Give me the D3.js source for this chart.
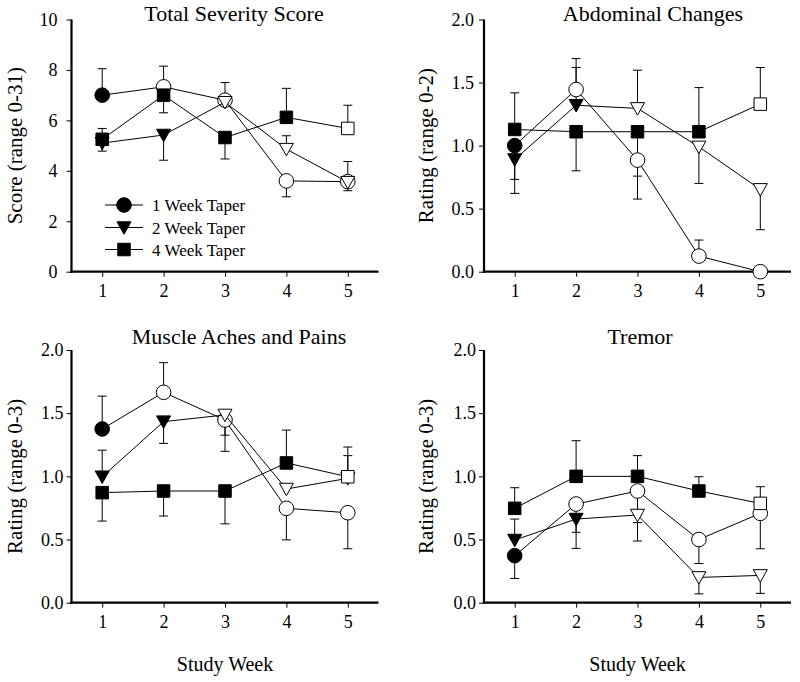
<!DOCTYPE html>
<html>
<head>
<meta charset="utf-8">
<script src="https://cdn.jsdelivr.net/npm/d3@7"></script>
</head>
<body style="margin:0;background:#fff">
<svg id="chart" width="800" height="682" style="display:block"></svg>
<script>
// ---------------- DATA ----------------
const weeks = [1, 2, 3, 4, 5];
const seriesNames = ["1 Week Taper", "2 Week Taper", "4 Week Taper"];
const seriesShapes = ["circle", "triangle", "square"];
const taperLength = [1, 2, 4]; // filled symbol while week <= taper length

const panelTitles = ["Total Severity Score", "Abdominal Changes", "Muscle Aches and Pains", "Tremor"];
const yLabels = ["Score (range 0-31)", "Rating (range 0-2)", "Rating (range 0-3)", "Rating (range 0-3)"];
const yTicksSeverity = [0, 2, 4, 6, 8, 10];
const yTicksRating = [0, 0.5, 1.0, 1.5, 2.0];

// Total Severity Score
const severity1wk = [7.0, 7.33, 6.8, 3.6, 3.57];
const severity2wk = [5.1, 5.42, 6.72, 4.86, 3.55];
const severity4wk = [5.25, 7.0, 5.32, 6.12, 5.68];
// signed SEM (positive = drawn upward, negative = drawn downward, null = not shown)
const severityErr1wk = [1.05, 0.82, 0.7, -0.63, 0.8];
const severityErr2wk = [-0.32, -1.0, null, 0.53, -0.34];
const severityErr4wk = [0.43, -0.7, -0.85, 1.15, 0.92];

// Abdominal Changes
const abdominal1wk = [1.0, 1.445, 0.885, 0.124, 0.0];
const abdominal2wk = [0.89, 1.32, 1.295, 0.99, 0.653];
const abdominal4wk = [1.128, 1.11, 1.11, 1.11, 1.329];
const abdominalErr1wk = [-0.379, 0.245, -0.127, 0.127, null];
const abdominalErr2wk = [-0.158, 0.3, 0.303, -0.29, -0.32];
const abdominalErr4wk = [0.29, -0.31, -0.534, 0.35, 0.29];

// Muscle Aches and Pains
const muscle1wk = [1.375, 1.665, 1.446, 0.747, 0.712];
const muscle2wk = [0.997, 1.433, 1.486, 0.9, 0.984];
const muscle4wk = [0.871, 0.884, 0.884, 1.106, 0.997];
const muscleErr1wk = [0.26, 0.235, -0.248, -0.25, -0.285];
const muscleErr2wk = [0.21, -0.172, -0.16, null, 0.18];
const muscleErr4wk = [-0.225, -0.198, -0.26, 0.26, 0.235];

// Tremor
const tremor1wk = [0.372, 0.781, 0.884, 0.5, 0.707];
const tremor2wk = [0.496, 0.662, 0.694, 0.2, 0.216];
const tremor4wk = [0.747, 1.0, 1.0, 0.884, 0.786];
const tremorErr1wk = [-0.18, -0.224, -0.25, -0.19, -0.28];
const tremorErr2wk = [0.166, -0.232, -0.206, -0.13, -0.142];
const tremorErr4wk = [0.163, 0.282, 0.164, 0.113, 0.132];

// ---------------- LAYOUT ----------------
const FONT = "Liberation Serif";
const panels = [
  { title: panelTitles[0], ylab: yLabels[0], domain: [0, 10], ticks: yTicksSeverity, fmt: d3.format("d"),
    means: [severity1wk, severity2wk, severity4wk], errs: [severityErr1wk, severityErr2wk, severityErr4wk],
    x0: 71.5, x1: 378.5, yTop: 19.5, yBot: 271.7, titleX: 234, titleY: 21, ylabX: 22, tickPad: 9, legend: true, xlab: false },
  { title: panelTitles[1], ylab: yLabels[1], domain: [0, 2], ticks: yTicksRating, fmt: d3.format(".1f"),
    means: [abdominal1wk, abdominal2wk, abdominal4wk], errs: [abdominalErr1wk, abdominalErr2wk, abdominalErr4wk],
    x0: 484, x1: 791, yTop: 19.5, yBot: 271.7, titleX: 653, titleY: 21, ylabX: 433, tickPad: 5, legend: false, xlab: false },
  { title: panelTitles[2], ylab: yLabels[2], domain: [0, 2], ticks: yTicksRating, fmt: d3.format(".1f"),
    means: [muscle1wk, muscle2wk, muscle4wk], errs: [muscleErr1wk, muscleErr2wk, muscleErr4wk],
    x0: 71.5, x1: 378.5, yTop: 350, yBot: 602.7, titleX: 239, titleY: 344, ylabX: 22, tickPad: 3, legend: false, xlab: true },
  { title: panelTitles[3], ylab: yLabels[3], domain: [0, 2], ticks: yTicksRating, fmt: d3.format(".1f"),
    means: [tremor1wk, tremor2wk, tremor4wk], errs: [tremorErr1wk, tremorErr2wk, tremorErr4wk],
    x0: 484, x1: 791, yTop: 350, yBot: 602.7, titleX: 640, titleY: 344, ylabX: 433, tickPad: 3, legend: false, xlab: true }
];

const svg = d3.select("#chart");

const symbolGen = {
  circle: d3.symbol().type(d3.symbolCircle).size(Math.PI * 7.3 * 7.3),
  square: d3.symbol().type(d3.symbolSquare).size(12.5 * 12.5)
};
function trianglePath() {
  const w = 14, h = 12.5;
  return `M${-w / 2},${-h / 2 + 0.5}L${w / 2},${-h / 2 + 0.5}L0,${h / 2 + 0.5}Z`;
}
function shapePath(shape) {
  return shape === "triangle" ? trianglePath() : symbolGen[shape]();
}
function styleText(sel, size) {
  sel.style("font-family", FONT).style("font-size", size + "px").attr("fill", "#000");
}

panels.forEach(p => {
  const g = svg.append("g");
  const x = d3.scaleLinear().domain([0.5, 5.5]).range([p.x0, p.x1]);
  const y = d3.scaleLinear().domain(p.domain).range([p.yBot, p.yTop]);

  // Y axis
  const yAxis = d3.axisLeft(y).tickValues(p.ticks).tickFormat(p.fmt).tickSize(5).tickPadding(p.tickPad).tickSizeOuter(0);
  const ya = g.append("g").attr("transform", `translate(${p.x0},0)`).call(yAxis);
  ya.attr("font-family", FONT).attr("font-size", 18);
  ya.select(".domain").attr("stroke", "#000").attr("stroke-width", 2.2)
    .attr("d", `M0,${p.yTop}V${p.yBot + 1.1}`);
  ya.selectAll(".tick line").attr("stroke", "#000").attr("stroke-width", 1);
  styleText(ya.selectAll(".tick text"), 18);

  // X axis
  const xAxis = d3.axisBottom(x).tickValues(weeks).tickFormat(d3.format("d")).tickSize(5).tickPadding(8).tickSizeOuter(0);
  const xa = g.append("g").attr("transform", `translate(0,${p.yBot})`).call(xAxis);
  xa.attr("font-family", FONT).attr("font-size", 18);
  xa.select(".domain").attr("stroke", "#000").attr("stroke-width", 2.2)
    .attr("d", `M${p.x0 - 1.1},0H${p.x1}`);
  xa.selectAll(".tick line").attr("stroke", "#000").attr("stroke-width", 1);
  styleText(xa.selectAll(".tick text"), 18);

  // Title
  styleText(g.append("text").attr("x", p.titleX).attr("y", p.titleY).attr("text-anchor", "middle").text(p.title), 22);

  // Y label
  const cy = (p.yTop + p.yBot) / 2;
  styleText(g.append("text").attr("transform", `translate(${p.ylabX},${cy}) rotate(-90)`)
    .attr("text-anchor", "middle").text(p.ylab), 21);

  // X label
  if (p.xlab) {
    styleText(g.append("text").attr("x", x(3)).attr("y", 671).attr("text-anchor", "middle").text("Study Week"), 20);
  }

  // Error bars (behind everything)
  const eb = g.append("g");
  p.means.forEach((vals, si) => {
    vals.forEach((v, wi) => {
      const e = p.errs[si][wi];
      if (e === null || e === undefined) return;
      const cx = x(weeks[wi]);
      const yEnd = y(v + e);
      eb.append("line").attr("x1", cx).attr("x2", cx).attr("y1", y(v)).attr("y2", yEnd)
        .attr("stroke", "#000").attr("stroke-width", 1);
      eb.append("line").attr("x1", cx - 4.5).attr("x2", cx + 4.5).attr("y1", yEnd).attr("y2", yEnd)
        .attr("stroke", "#000").attr("stroke-width", 1);
    });
  });

  // Series lines + markers
  const line = d3.line().x((d, i) => x(weeks[i])).y(d => y(d));
  p.means.forEach((vals, si) => {
    const sg = g.append("g");
    sg.append("path").attr("d", line(vals)).attr("fill", "none").attr("stroke", "#000").attr("stroke-width", 1);
    vals.forEach((v, wi) => {
      const filled = weeks[wi] <= taperLength[si];
      sg.append("path").attr("d", shapePath(seriesShapes[si]))
        .attr("transform", `translate(${x(weeks[wi])},${y(v)})`)
        .attr("fill", filled ? "#000" : "#fff").attr("stroke", "#000").attr("stroke-width", 1);
    });
  });

  // Legend
  if (p.legend) {
    const lg = g.append("g");
    const ly = [205, 227.5, 249.5];
    seriesNames.forEach((name, si) => {
      lg.append("line").attr("x1", 105).attr("x2", 143).attr("y1", ly[si]).attr("y2", ly[si])
        .attr("stroke", "#000").attr("stroke-width", 1);
      lg.append("path").attr("d", shapePath(seriesShapes[si])).attr("transform", `translate(124,${ly[si]})`)
        .attr("fill", "#000").attr("stroke", "#000");
      styleText(lg.append("text").attr("x", 152).attr("y", ly[si] + 6).text(name), 17);
    });
  }
});
</script>
</body>
</html>
